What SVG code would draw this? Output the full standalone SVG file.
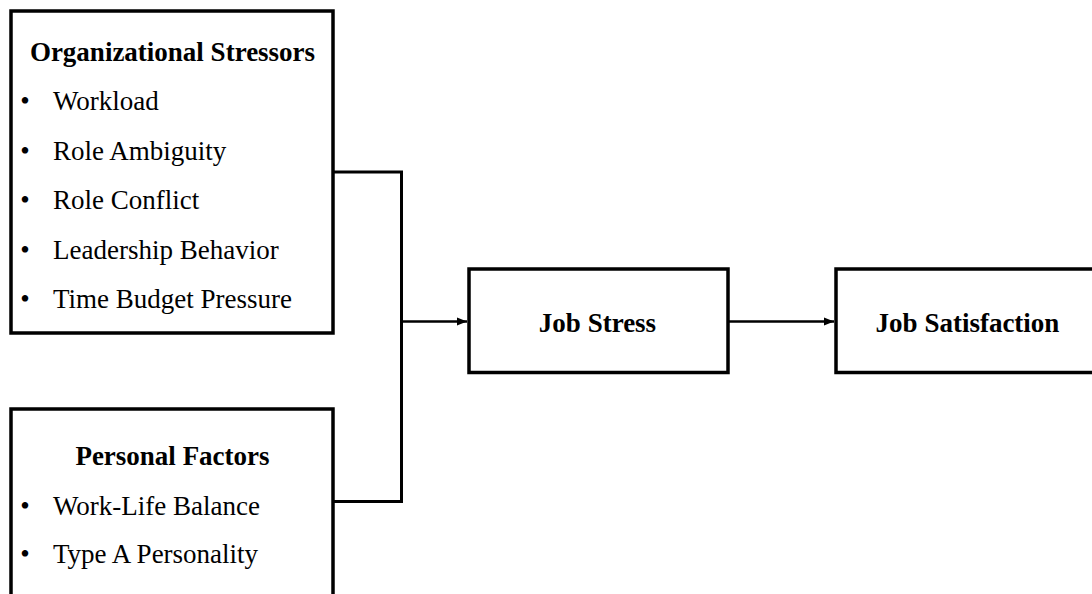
<svg xmlns="http://www.w3.org/2000/svg" width="1092" height="594" viewBox="0 0 1092 594">
  <style>
    .box { fill: #ffffff; stroke: #000000; stroke-width: 3.5; }
    .title { font-family: "Liberation Serif", "Times New Roman", serif; font-weight: bold; font-size: 27px; fill: #000; text-anchor: middle; }
    .item { font-family: "Liberation Serif", "Times New Roman", serif; font-size: 27px; fill: #000; }
    .label { font-family: "Liberation Serif", "Times New Roman", serif; font-weight: bold; font-size: 27px; fill: #000; text-anchor: middle; }
    .conn { fill: none; stroke: #000000; stroke-width: 3; }
    .arrow { fill: none; stroke: #000000; stroke-width: 2.5; }
  </style>
  <defs>
    <marker id="ah" markerUnits="userSpaceOnUse" markerWidth="10" markerHeight="10" viewBox="0 0 10 10" refX="10" refY="5" orient="auto">
      <path d="M0,1 L10,5 L0,9 Z" fill="#000"/>
    </marker>
  </defs>
  <rect width="1092" height="594" fill="#ffffff"/>

  <g id="connectors">
    <path class="conn" d="M333,172 H401.5 V501.5 H333"/>
    <line class="arrow" x1="401.5" y1="321.5" x2="467" y2="321.5" marker-end="url(#ah)"/>
    <line class="arrow" x1="728" y1="321.5" x2="834" y2="321.5" marker-end="url(#ah)"/>
  </g>

  <g id="organizational-stressors">
    <rect class="box" x="11" y="11" width="322" height="322"/>
    <text class="title" x="172.5" y="61">Organizational Stressors</text>
    <text class="item" x="25" y="110" text-anchor="middle">•</text>
    <text class="item" x="53" y="110">Workload</text>
    <text class="item" x="25" y="159.5" text-anchor="middle">•</text>
    <text class="item" x="53" y="159.5">Role Ambiguity</text>
    <text class="item" x="25" y="209" text-anchor="middle">•</text>
    <text class="item" x="53" y="209">Role Conflict</text>
    <text class="item" x="25" y="258.5" text-anchor="middle">•</text>
    <text class="item" x="53" y="258.5">Leadership Behavior</text>
    <text class="item" x="25" y="308" text-anchor="middle">•</text>
    <text class="item" x="53" y="308">Time Budget Pressure</text>
  </g>

  <g id="personal-factors">
    <rect class="box" x="11" y="409" width="322" height="192"/>
    <text class="title" x="172.5" y="465">Personal Factors</text>
    <text class="item" x="25" y="515" text-anchor="middle">•</text>
    <text class="item" x="53" y="515">Work-Life Balance</text>
    <text class="item" x="25" y="563" text-anchor="middle">•</text>
    <text class="item" x="53" y="563">Type A Personality</text>
  </g>

  <g id="job-stress">
    <rect class="box" x="469" y="269" width="259" height="103.5"/>
    <text class="label" x="597.5" y="332">Job Stress</text>
  </g>

  <g id="job-satisfaction">
    <rect class="box" x="836" y="269" width="264" height="103.5"/>
    <text class="label" x="967.5" y="332">Job Satisfaction</text>
  </g>
</svg>
